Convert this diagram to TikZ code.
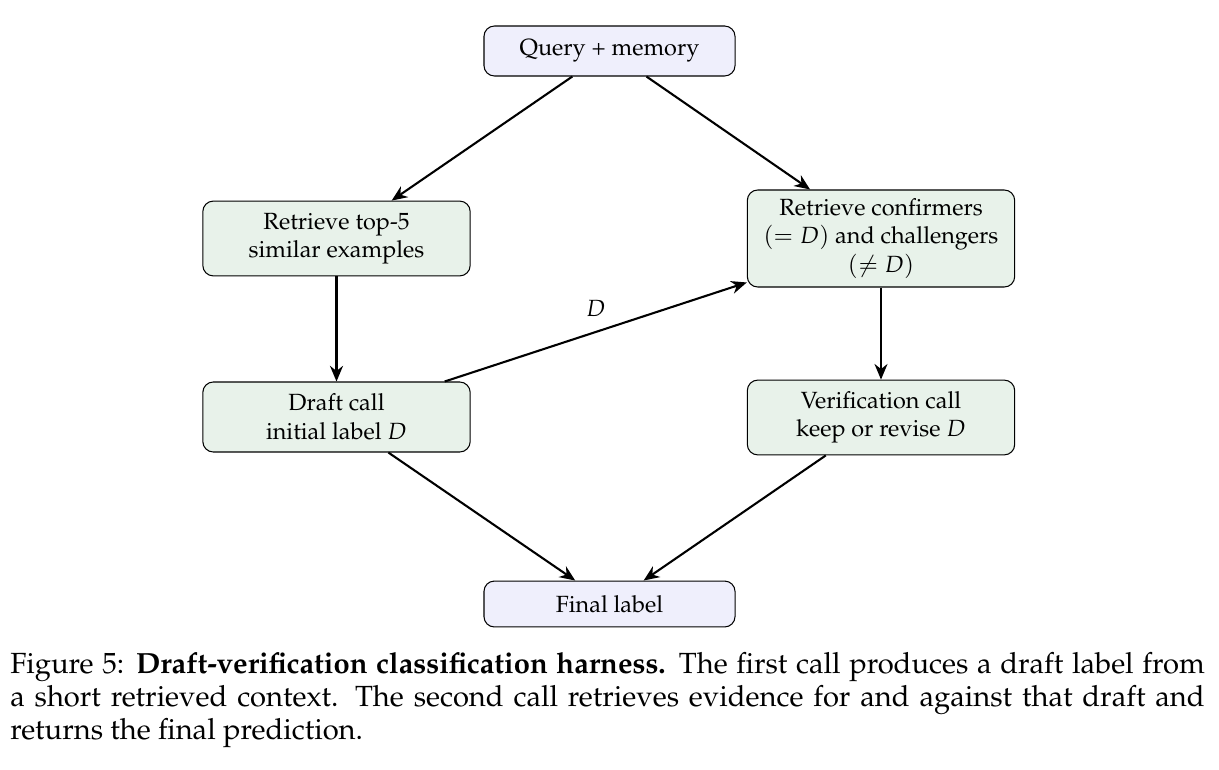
\documentclass[tikz,border=0pt]{standalone}
\usepackage[T1]{fontenc}
\usepackage{amsmath,amssymb}
\usepackage{mathpazo}
\usepackage{tikz}
\usetikzlibrary{arrows.meta}
\definecolor{endfill}{RGB}{239,239,252}
\definecolor{stepfill}{RGB}{232,242,234}
\tikzset{box/.style={draw,rounded corners=4pt,align=center,inner sep=2pt,font=\small},
 endbox/.style={box,fill=endfill,minimum width=3.39cm},
 stepbox/.style={box,fill=stepfill,minimum width=3.61cm},
 flow/.style={-{Stealth[length=6pt,width=5pt]},thick}}

\begin{document}
\begin{tikzpicture}[x=0.0135cm,y=-0.0135cm]
\useasboundingbox (0,0) rectangle (1219,770);
\node[endbox,minimum height=0.675cm] (query) at (609.5,51) {Query + memory};
\node[stepbox,minimum height=1.01cm] (topk) at (336.5,238.5) {Retrieve top-5\\ similar examples};
\node[stepbox,minimum height=1.31cm] (evid) at (881,238.5) {Retrieve confirmers\\ $(=D)$ and challengers\\ $(\neq D)$};
\node[stepbox,minimum height=0.945cm] (draft) at (336.5,417) {Draft call\\ initial label $D$};
\node[stepbox,minimum height=1.01cm] (verify) at (881,417.5) {Verification call\\ keep or revise $D$};
\node[endbox,minimum height=0.62cm] (final) at (609.5,604) {Final label};
\draw[flow] (query)--(topk);
\draw[flow] (query)--(evid);
\draw[flow] (topk)--(draft);
\draw[flow] (draft)--node[midway,above=2pt,font=\small] {$D$} (evid);
\draw[flow] (evid)--(verify);
\draw[flow] (draft)--(final);
\draw[flow] (verify)--(final);
\node[text width=16.13cm,align=justify,inner sep=0pt,font=\fontsize{11.2}{12.7}\selectfont] (caption) at (607.5,700)
 {Figure 5: \textbf{Draft-verification classification harness.} The first call produces a draft label from\linebreak a short retrieved context. The second call retrieves evidence for and against that draft and\linebreak returns the final prediction.};
\end{tikzpicture}
\end{document}
